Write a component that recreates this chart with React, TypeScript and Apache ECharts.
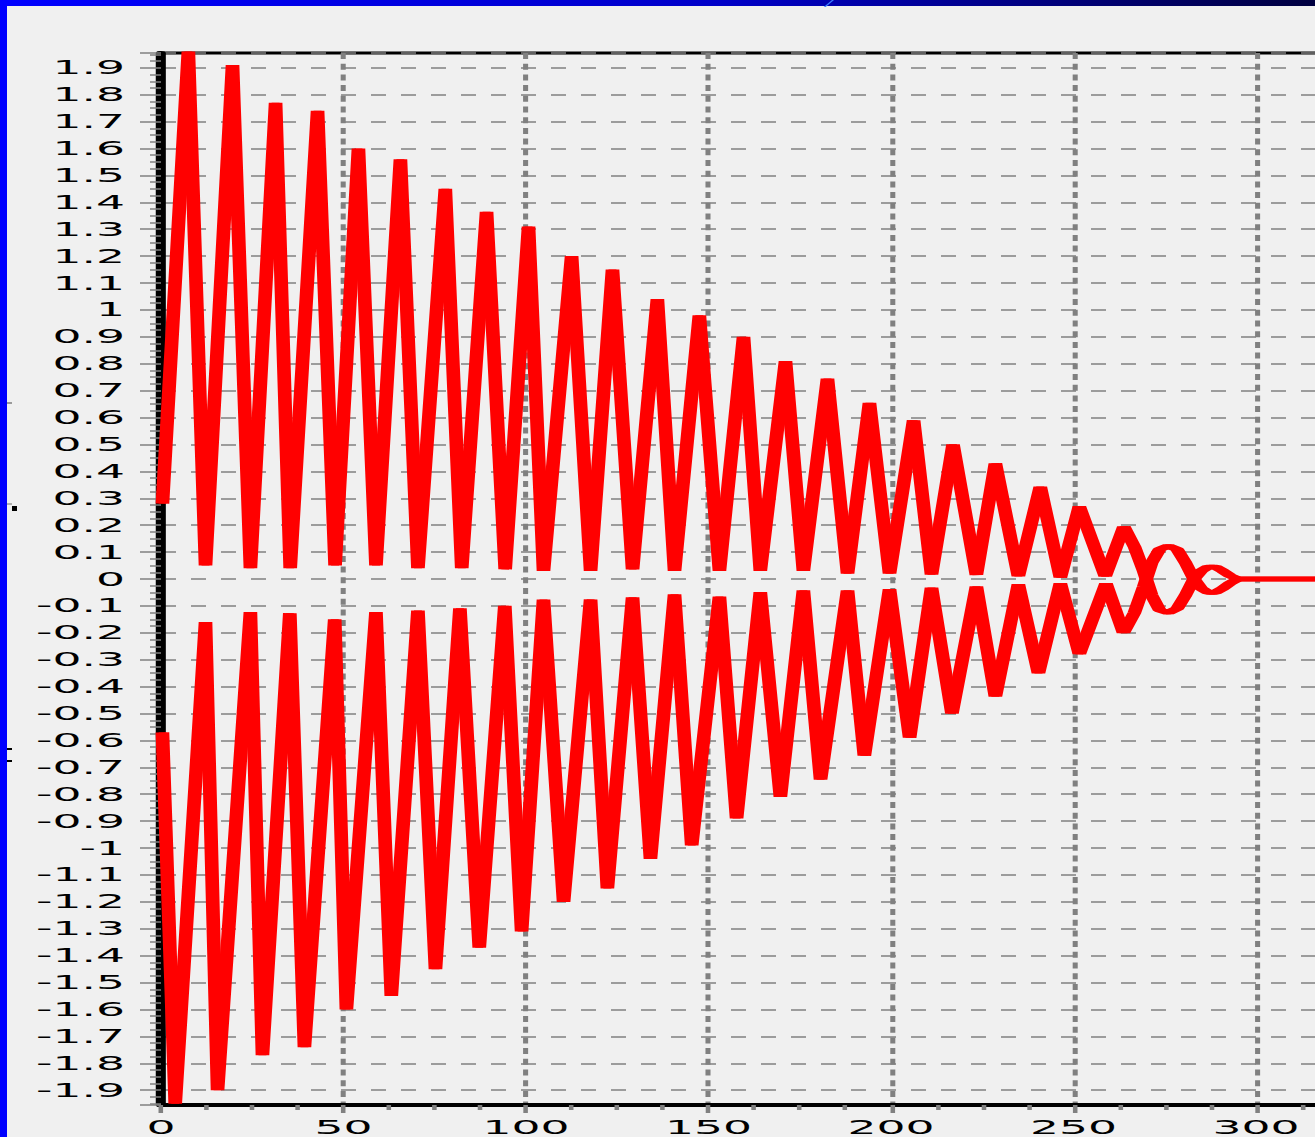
import React, { useEffect, useRef } from "react";
import * as echarts from "echarts";

// Upper trace: turning points (time, amplitude)
const upperX = [
  0, 7.1, 11.8, 19.2, 24.1, 31.0, 35.0, 42.5, 47.3, 53.7, 58.5, 65.2, 70.0, 77.5, 82.0, 88.8, 93.9,
  100.3, 104.4, 112.1, 117.3, 123.3, 128.8, 135.6, 140.3, 147.1, 152.6, 159.2, 163.8, 170.7, 175.6,
  182.2, 187.7, 193.7, 199.2, 205.8, 210.7, 216.6, 223.0, 228.2, 234.5, 240.5, 246.0, 251.2, 258.3,
  263.4, 266.3, 268.8, 271.0, 273.2, 275.6, 278.0, 280.3, 282.4, 284.6, 286.5, 288.5, 290.5, 292.5,
  294.6, 320,
];
const upperY = [
  0.28, 1.96, 0.05, 1.91, 0.04, 1.77, 0.04, 1.74, 0.05, 1.6, 0.05, 1.56, 0.04, 1.45, 0.04, 1.365, 0.036,
  1.31, 0.03, 1.2, 0.03, 1.15, 0.036, 1.04, 0.03, 0.98, 0.03, 0.9, 0.03, 0.81, 0.03,
  0.745, 0.02, 0.655, 0.02, 0.59, 0.016, 0.5, 0.015, 0.43, 0.01, 0.343, 0.005, 0.27, 0.01,
  0.195, 0.12, 0.03, -0.06, -0.115, -0.125, -0.11, -0.06, -0.005, 0.03, 0.045, 0.045, 0.03, 0.012,
  0, 0,
];

// Lower trace: turning points (time, amplitude)
const lowerX = [
  0, 3.5, 11.8, 15.1, 24.1, 27.4, 34.9, 38.9, 47.2, 50.4, 58.5, 62.7, 70.0, 74.8, 81.5, 86.8, 93.8,
  98.4, 104.4, 109.9, 117.3, 121.9, 128.8, 133.7, 140.3, 145.0, 152.6, 157.3, 163.8, 169.3, 175.6,
  180.3, 187.7, 192.3, 199.2, 204.7, 210.7, 216.3, 223.0, 228.2, 234.5, 240.0, 246.0, 251.2, 258.5,
  263.3, 266.3, 268.8, 271.0, 273.2, 275.6, 278.0, 280.3, 282.4, 284.6, 286.5, 288.5, 290.5, 292.5,
  294.6, 320,
];
const lowerY = [
  -0.57, -1.95, -0.16, -1.9, -0.123, -1.77, -0.127, -1.74, -0.15, -1.6, -0.123, -1.55, -0.117, -1.45, -0.109, -1.37, -0.1,
  -1.31, -0.076, -1.2, -0.076, -1.15, -0.068, -1.04, -0.057, -0.99, -0.065, -0.89, -0.049, -0.81, -0.042,
  -0.746, -0.042, -0.657, -0.038, -0.59, -0.032, -0.5, -0.028, -0.437, -0.019, -0.35, -0.016, -0.279, -0.016,
  -0.2, -0.125, -0.03, 0.06, 0.11, 0.123, 0.11, 0.06, 0.005, -0.035, -0.05, -0.05, -0.035, -0.015,
  0, 0,
];

// Axis extents / tick spacing
const xMin = 0;
const xMax = 320;
const xStep = 50;
const yMin = -1.955;
const yMax = 1.955;
const yStep = 0.1;

const W = 1315;
const H = 1137;
const S = 2.4; // horizontal stretch of the whole picture
const CANVAS_W = 1345; // drawn wider than the page, clipped at the right
const PLOT_LEFT = 161;
const PLOT_RIGHT = 161 + (xMax - xMin) * 3.65;
const PEN_SHIFT = 1.2; // second pass of the pen, in unstretched px

export default function App() {
  const ref = useRef<HTMLDivElement>(null);

  useEffect(() => {
    if (!ref.current) return;
    const chart = echarts.init(ref.current, null, { renderer: "svg", width: CANVAS_W / S, height: H });
    const gray = "#808080";
    const font = { fontFamily: "DejaVu Sans", fontSize: 19, color: "#000" };
    const left = PLOT_LEFT / S;
    const right = (CANVAS_W - PLOT_RIGHT) / S;
    const hiddenAxis = {
      axisLine: { show: false },
      axisTick: { show: false },
      axisLabel: { show: false },
      splitLine: { show: false },
    };
    const red = { color: "#ff0000", width: 4.5, join: "bevel" };
    const makeSeries = (xs: number[], ys: number[], idx: number) => ({
      type: "line",
      xAxisIndex: idx,
      yAxisIndex: idx,
      data: xs.map((x, i) => [x, ys[i]]),
      showSymbol: false,
      symbol: "none",
      lineStyle: red,
      z: 3,
    });
    chart.setOption({
      animation: false,
      backgroundColor: "transparent",
      grid: [
        {
          show: true,
          left,
          right,
          top: 53,
          bottom: H - 1105,
          borderColor: "#000",
          borderWidth: 3,
          backgroundColor: "transparent",
        },
        {
          show: false,
          left: left + PEN_SHIFT,
          right: right - PEN_SHIFT,
          top: 53,
          bottom: H - 1105,
        },
      ],
      xAxis: [
        {
          type: "value",
          gridIndex: 0,
          min: xMin,
          max: xMax,
          interval: xStep,
          axisLine: { show: true, onZero: false, lineStyle: { color: "#000", width: 4 } },
          axisTick: { show: true, length: 8, lineStyle: { color: gray, width: 1.9 } },
          minorTick: { show: true, splitNumber: 4, length: 5, lineStyle: { color: gray, width: 1.9 } },
          axisLabel: { ...font, margin: 13, showMaxLabel: false },
          splitLine: { show: true, lineStyle: { color: gray, width: 2.1, type: [6, 4.7] } },
        },
        { type: "value", gridIndex: 1, min: xMin, max: xMax, interval: xStep, ...hiddenAxis },
      ],
      yAxis: [
        {
          type: "value",
          gridIndex: 0,
          min: yMin,
          max: yMax,
          splitNumber: 39,
          minInterval: yStep,
          maxInterval: yStep,
          axisLine: { show: true, onZero: false, lineStyle: { color: "#000", width: 4.2 } },
          axisTick: { show: true, length: 8.75, lineStyle: { color: gray, width: 1.5 } },
          minorTick: { show: true, splitNumber: 4, length: 4.6, lineStyle: { color: gray, width: 1.5 } },
          axisLabel: { ...font, margin: 15, showMinLabel: false, showMaxLabel: false },
          splitLine: { show: true, lineStyle: { color: gray, width: 1.6, type: [6.25, 6.25] } },
        },
        { type: "value", gridIndex: 1, min: yMin, max: yMax, ...hiddenAxis },
      ],
      series: [
        makeSeries(upperX, upperY, 0),
        makeSeries(lowerX, lowerY, 0),
        makeSeries(upperX, upperY, 1),
        makeSeries(lowerX, lowerY, 1),
      ],
    });
    return () => chart.dispose();
  }, []);

  const mark = (left: number, top: number, w: number, h: number, bg: string) => (
    <div style={{ position: "absolute", left, top, width: w, height: h, background: bg }} />
  );

  return (
    <div
      style={{
        position: "fixed",
        left: 0,
        top: 0,
        width: W,
        height: H,
        background: "#f0f0f0",
        overflow: "hidden",
      }}
    >
      <div
        ref={ref}
        style={{
          position: "absolute",
          left: 0,
          top: 0,
          width: CANVAS_W / S,
          height: H,
          transform: `scaleX(${S})`,
          transformOrigin: "0 0",
        }}
      />
      <div
        style={{
          position: "absolute",
          left: 0,
          top: 0,
          width: W,
          height: 6,
          background: "linear-gradient(to right, #0000ff, #0000c8 55%, #000040)",
        }}
      />
      <div
        style={{
          position: "absolute",
          left: 832,
          top: 0,
          width: 2,
          height: 7,
          background: "#3a7bff",
          transform: "skewX(-50deg)",
          transformOrigin: "0 0",
        }}
      />
      <div style={{ position: "absolute", left: 0, top: 0, width: 7, height: H, background: "#0000ff" }} />
      {mark(7, 402, 5, 2, "#9a9a9a")}
      {mark(7, 503, 5, 2, "#b0b0b0")}
      {mark(12, 506, 5, 5, "#000")}
      {mark(7, 748, 5, 2, "#000")}
      {mark(7, 760, 5, 2, "#000")}
    </div>
  );
}
